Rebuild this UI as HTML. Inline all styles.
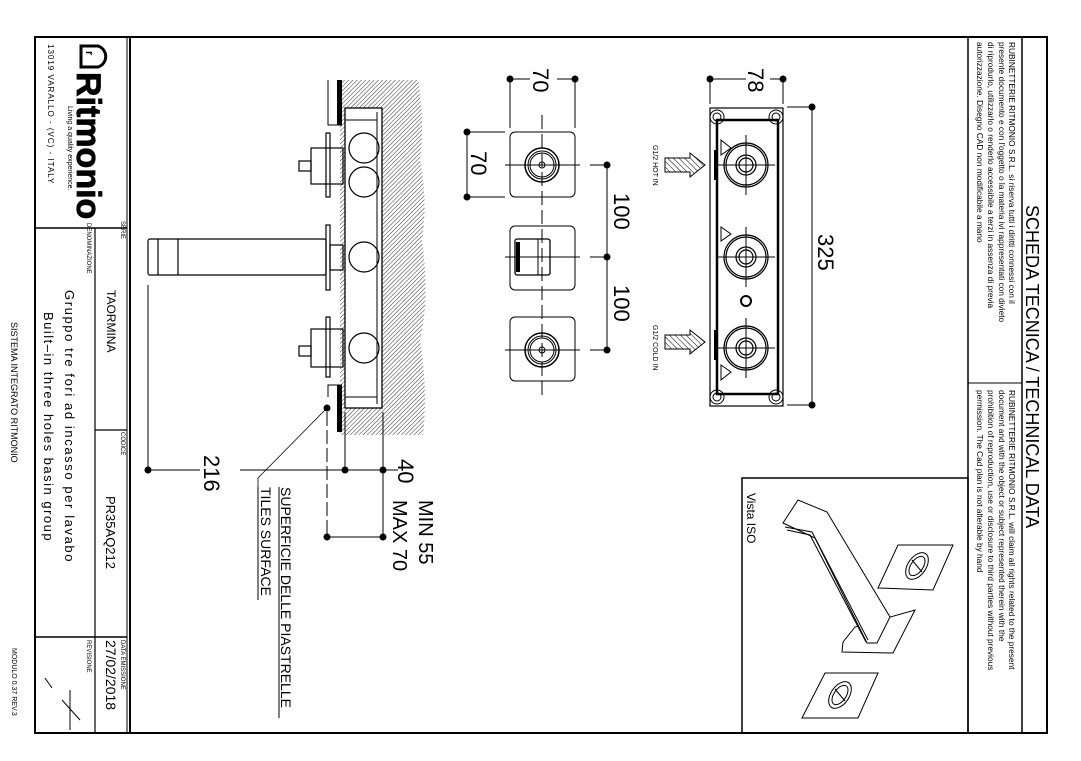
<!DOCTYPE html>
<html><head><meta charset="utf-8"><style>
html,body{margin:0;padding:0;background:#fff;}
svg{display:block;}
text{font-family:"Liberation Sans",sans-serif;fill:#000;}
</style></head><body>
<svg width="1081" height="761" viewBox="0 0 1081 761" xmlns="http://www.w3.org/2000/svg">
<defs>
<pattern id="hat" patternUnits="userSpaceOnUse" width="3" height="3" patternTransform="rotate(45)">
<line x1="0" y1="0" x2="0" y2="3" stroke="#000" stroke-width="0.8"/>
</pattern>
<pattern id="hat2" patternUnits="userSpaceOnUse" width="4" height="4" patternTransform="rotate(-45)">
<line x1="0" y1="0" x2="0" y2="4" stroke="#000" stroke-width="1"/>
</pattern>
</defs>
<rect width="1081" height="761" fill="#fff"/>
<!-- frame -->
<rect x="35" y="37" width="1012" height="696" fill="none" stroke="#000" stroke-width="2"/>
<line x1="130" y1="37" x2="130" y2="733" stroke="#000" stroke-width="2"/>
<line x1="127" y1="37" x2="127" y2="733" stroke="#000" stroke-width="1"/>
<line x1="35" y1="228" x2="127" y2="228" stroke="#000" stroke-width="1.5"/>
<line x1="35" y1="637" x2="127" y2="637" stroke="#000" stroke-width="1.5"/>
<line x1="95" y1="430" x2="127" y2="430" stroke="#000" stroke-width="1.2"/>
<line x1="95" y1="228" x2="95" y2="733" stroke="#000" stroke-width="1.2"/>
<!-- title block texts -->
<path d="M81,46 L98,46 A11,11 0 0 1 98,67 L81,67 Z" fill="none" stroke="#000" stroke-width="3"/>
<text transform="translate(86,51) rotate(90)" font-size="11" font-weight="bold">r</text>
<text transform="translate(77,72) rotate(90)" font-size="34" font-weight="bold" stroke="#000" stroke-width="0.8">Ritmonio</text>
<text transform="translate(68,106) rotate(90)" font-size="7">Living a quality experience.</text>
<text transform="translate(48,44) rotate(90)" font-size="8" letter-spacing="1">13019 VARALLO - (VC) - ITALY</text>
<text transform="translate(121,221) rotate(90)" font-size="6" fill="#555">SERIE</text>
<text transform="translate(107,290) rotate(90)" font-size="12">TAORMINA</text>
<text transform="translate(87,223) rotate(90)" font-size="6" fill="#555">DENOMINAZIONE</text>
<text transform="translate(65,290) rotate(90)" font-size="13" letter-spacing="1.6">Gruppo tre fori ad incasso per lavabo</text>
<text transform="translate(44,312) rotate(90)" font-size="13" letter-spacing="1.5">Built–in three holes basin group</text>
<text transform="translate(121,432) rotate(90)" font-size="6" fill="#555">CODICE</text>
<text transform="translate(106,496) rotate(90)" font-size="13">PR35AQ212</text>
<text transform="translate(121,640) rotate(90)" font-size="6" fill="#555">DATA EMISSIONE</text>
<text transform="translate(106,640) rotate(90)" font-size="14">27/02/2018</text>
<text transform="translate(87,640) rotate(90)" font-size="6" fill="#555">REVISIONE</text>
<line x1="70" y1="690" x2="70" y2="730" stroke="#000"/>
<line x1="62" y1="700" x2="80" y2="720" stroke="#000"/>
<line x1="45" y1="678" x2="52" y2="688" stroke="#000"/>
<text transform="translate(11,322) rotate(90)" font-size="9">SISTEMA INTEGRATO RITMONIO</text>
<text transform="translate(12,648) rotate(90)" font-size="7">MODULO 0.37 REV.3</text>
<!-- right strip -->
<line x1="968" y1="37" x2="968" y2="733" stroke="#000" stroke-width="1.5"/>
<line x1="1022" y1="37" x2="1022" y2="733" stroke="#000" stroke-width="1.5"/>
<line x1="968" y1="383" x2="1022" y2="383" stroke="#000" stroke-width="1"/>
<text transform="translate(1026,205) rotate(90)" font-size="18">SCHEDA TECNICA / TECHNICAL DATA</text>
<g font-size="8.3">
<text transform="translate(1009,42) rotate(90)">RUBINETTERIE RITMONIO S.R.L. si riserva tutti i diritti connessi con il</text>
<text transform="translate(999,42) rotate(90)">presente documento e con l'oggetto o la materia ivi rappresentati con divieto</text>
<text transform="translate(988,42) rotate(90)">di riprodurlo, utilizzarlo o renderlo accessibile a terzi in assenza di previa</text>
<text transform="translate(977,42) rotate(90)">autorizzazione. Disegno CAD non modificabile a mano</text>
<text transform="translate(1009,390) rotate(90)">RUBINETTERIE RITMONIO S.R.L. will claim all rights related to the present</text>
<text transform="translate(999,390) rotate(90)">document and with the object or subject represented therein with the</text>
<text transform="translate(988,390) rotate(90)">prohibition  of reproduction, use or disclosure to third parties without previous</text>
<text transform="translate(977,390) rotate(90)">permission.  The Cad plan is not alterable by hand</text>
</g>
<!-- Vista ISO -->
<rect x="742" y="478" width="226" height="255" fill="none" stroke="#000" stroke-width="1.5"/>
<text transform="translate(747,493) rotate(90)" font-size="12">Vista ISO</text>
<g fill="none" stroke="#000" stroke-width="1">
<polygon points="843,642 855,627 915,610 893,653 842,652"/>
<polygon points="783,523 798,500 827,512 890,617 877,643 867,643 815,538" fill="#fff"/>
<polyline points="785,527 812,532 868,640"/>
<polyline points="787,530 810,535 866,642"/>
<polygon points="878,588 898,545 953,545 933,590"/>
<ellipse cx="917" cy="566" rx="15" ry="9" transform="rotate(-55 917 566)"/>
<ellipse cx="917" cy="566" rx="11" ry="6" transform="rotate(-55 917 566)"/>
<line x1="912" y1="560" x2="922" y2="572"/>
<polygon points="802,718 825,673 878,673 858,718"/>
<ellipse cx="840" cy="695" rx="15" ry="9" transform="rotate(-55 840 695)"/>
<ellipse cx="840" cy="695" rx="11" ry="6" transform="rotate(-55 840 695)"/>
<line x1="835" y1="689" x2="845" y2="701"/>
</g>
<!-- side section view -->
<path d="M340,80 L418,80 Q425,120 420,160 Q428,200 422,240 Q430,300 420,340 Q428,390 423,435 L340,435 Z" fill="url(#hat)" stroke="none"/>
<rect x="345" y="108" width="37" height="300" fill="#fff" stroke="#000" stroke-width="1.3"/>
<line x1="377" y1="112" x2="377" y2="404" stroke="#000"/>
<line x1="345" y1="120" x2="377" y2="120" stroke="#000"/>
<line x1="345" y1="397" x2="377" y2="397" stroke="#000"/>
<rect x="337" y="80" width="5" height="45" fill="#000"/>
<rect x="337" y="385" width="5" height="47" fill="#000"/>
<polyline points="328,80 328,125 342,125" fill="none" stroke="#000"/>
<polyline points="328,397 328,385 342,385" fill="none" stroke="#000"/>
<g fill="none" stroke="#000" stroke-width="1.2">
<circle cx="364" cy="148" r="15"/><circle cx="364" cy="182" r="15"/>
<circle cx="364" cy="257" r="15"/><circle cx="364" cy="348" r="15"/>
<rect x="311" y="148" width="32" height="36"/><rect x="299" y="161" width="12" height="10"/>
<rect x="326" y="133" width="4" height="64"/>
<rect x="311" y="329" width="32" height="38"/><rect x="299" y="346" width="12" height="10"/>
<rect x="326" y="317" width="4" height="60"/>
<rect x="148" y="239" width="178" height="36" rx="2"/>
<line x1="158" y1="239" x2="158" y2="275"/><line x1="178" y1="239" x2="178" y2="275"/>
<rect x="326" y="225" width="4" height="65"/>
<rect x="330" y="245" width="13" height="25"/>
</g>
<!-- side dims -->
<g stroke="#000" stroke-width="1" fill="none">
<line x1="148" y1="285" x2="148" y2="470"/>
<line x1="148" y1="470" x2="200" y2="470"/><line x1="240" y1="470" x2="398" y2="470"/>
<line x1="345" y1="412" x2="345" y2="470"/>
<line x1="383" y1="412" x2="383" y2="537"/>
<line x1="327" y1="412" x2="327" y2="537" stroke-dasharray="14,4"/>
<line x1="327" y1="537" x2="383" y2="537"/>
<polyline points="327,408 258,478 258,600" stroke-width="0.8"/>
<line x1="279" y1="487" x2="279" y2="718"/>
<line x1="258" y1="487" x2="258" y2="600"/>
</g>
<g fill="#000">
<circle cx="148" cy="470" r="3.5"/><circle cx="345" cy="470" r="3.5"/><circle cx="383" cy="470" r="3.5"/>
<circle cx="327" cy="537" r="3.5"/><circle cx="383" cy="537" r="3.5"/><circle cx="327" cy="408" r="3.5"/>
</g>
<text transform="translate(204,455) rotate(90)" font-size="22">216</text>
<text transform="translate(398,459) rotate(90)" font-size="22">40</text>
<text transform="translate(419,500) rotate(90)" font-size="20">MIN 55</text>
<text transform="translate(393,500) rotate(90)" font-size="20">MAX 70</text>
<text transform="translate(281,487) rotate(90)" font-size="14">SUPERFICIE DELLE PIASTRELLE</text>
<text transform="translate(261,487) rotate(90)" font-size="14">TILES SURFACE</text>
<!-- front view -->
<g stroke="#000" stroke-width="1" fill="none">
<line x1="510" y1="79" x2="530" y2="79"/><line x1="557" y1="79" x2="575" y2="79"/>
<line x1="510" y1="79" x2="510" y2="128"/><line x1="575" y1="79" x2="575" y2="128"/>
<line x1="467" y1="132" x2="467" y2="197"/>
<line x1="467" y1="132" x2="505" y2="132"/><line x1="467" y1="197" x2="505" y2="197"/>
<rect x="510" y="132" width="65" height="65" rx="5"/>
<rect x="510" y="226" width="65" height="64" rx="5"/>
<rect x="510" y="317" width="65" height="64" rx="5"/>
<line x1="542" y1="115" x2="542" y2="400" stroke-dasharray="14,5"/>
<line x1="505" y1="165" x2="580" y2="165"/><line x1="590" y1="165" x2="607" y2="165"/>
<line x1="505" y1="257" x2="580" y2="257"/><line x1="590" y1="257" x2="607" y2="257"/>
<line x1="505" y1="350" x2="580" y2="350"/><line x1="590" y1="350" x2="607" y2="350"/>
<line x1="607" y1="165" x2="607" y2="350"/>
<circle cx="542" cy="165" r="17" stroke-width="1.5"/><circle cx="542" cy="165" r="14"/><circle cx="542" cy="165" r="12"/><circle cx="542" cy="165" r="3"/>
<circle cx="542" cy="350" r="17" stroke-width="1.5"/><circle cx="542" cy="350" r="14"/><circle cx="542" cy="350" r="12"/><circle cx="542" cy="350" r="3"/>
<rect x="515" y="239" width="35" height="36" rx="2" stroke-width="1.3"/>
<line x1="538" y1="239" x2="538" y2="275"/>
</g>
<rect x="516" y="242" width="4" height="30" fill="#000"/>
<g fill="#000">
<circle cx="510" cy="79" r="3.5"/><circle cx="575" cy="79" r="3.5"/>
<circle cx="467" cy="132" r="3.5"/><circle cx="467" cy="197" r="3.5"/>
<circle cx="607" cy="165" r="3.5"/><circle cx="607" cy="257" r="3.5"/><circle cx="607" cy="350" r="3.5"/>
</g>
<text transform="translate(533,68) rotate(90)" font-size="22">70</text>
<text transform="translate(471,151) rotate(90)" font-size="22">70</text>
<text transform="translate(614,193) rotate(90)" font-size="22">100</text>
<text transform="translate(614,285) rotate(90)" font-size="22">100</text>
<!-- plan view -->
<g stroke="#000" fill="none">
<rect x="710" y="108" width="73" height="298" stroke-width="1.2"/>
<rect x="717" y="120" width="61" height="274" stroke-width="2.5"/>
<circle cx="717" cy="117" r="7"/><circle cx="717" cy="117" r="4"/>
<circle cx="776" cy="117" r="7"/><circle cx="776" cy="117" r="4"/>
<circle cx="717" cy="397" r="7"/><circle cx="717" cy="397" r="4"/>
<circle cx="776" cy="397" r="7"/><circle cx="776" cy="397" r="4"/>
<g stroke-width="1.2">
<circle cx="746" cy="165" r="22"/><circle cx="746" cy="165" r="20"/><circle cx="746" cy="165" r="10"/><circle cx="746" cy="165" r="7"/>
<circle cx="746" cy="257" r="22"/><circle cx="746" cy="257" r="20"/><circle cx="746" cy="257" r="10"/><circle cx="746" cy="257" r="7"/>
<circle cx="746" cy="348" r="22"/><circle cx="746" cy="348" r="20"/><circle cx="746" cy="348" r="10"/><circle cx="746" cy="348" r="7"/>
</g>
<line x1="718" y1="165" x2="775" y2="165"/><line x1="746" y1="135" x2="746" y2="195"/>
<line x1="718" y1="257" x2="775" y2="257"/><line x1="746" y1="227" x2="746" y2="287"/>
<line x1="718" y1="348" x2="775" y2="348"/><line x1="746" y1="318" x2="746" y2="378"/>
<polygon points="721,140 731,148 721,155"/>
<polygon points="721,227 731,234 721,241"/>
<polygon points="721,365 731,372 721,380"/>
<circle cx="746" cy="301" r="5" stroke-width="2"/>
<line x1="710" y1="79" x2="746" y2="79"/><line x1="770" y1="79" x2="783" y2="79"/>
<line x1="710" y1="79" x2="710" y2="104"/><line x1="783" y1="79" x2="783" y2="104"/>
<line x1="787" y1="107" x2="812" y2="107"/><line x1="787" y1="405" x2="812" y2="405"/>
<line x1="812" y1="107" x2="812" y2="405"/>
</g>
<rect x="714" y="150" width="3" height="30" fill="#000"/>
<rect x="714" y="330" width="3" height="30" fill="#000"/>
<g fill="#000">
<circle cx="710" cy="79" r="3.5"/><circle cx="783" cy="79" r="3.5"/>
<circle cx="812" cy="107" r="3.5"/><circle cx="812" cy="405" r="3.5"/>
</g>
<text transform="translate(748,68) rotate(90)" font-size="22">78</text>
<text transform="translate(818,234) rotate(90)" font-size="22">325</text>
<!-- inlet arrows -->
<polygon points="665,158 690,158 690,153 705,165 690,177 690,172 665,172" fill="url(#hat2)" stroke="#000" stroke-width="1"/>
<polygon points="665,335 690,335 690,330 705,342 690,354 690,349 665,349" fill="url(#hat2)" stroke="#000" stroke-width="1"/>
<text transform="translate(653,145) rotate(90)" font-size="7">G1/2 HOT IN</text>
<text transform="translate(653,325) rotate(90)" font-size="7">G1/2 COLD IN</text>
</svg>
</body></html>
